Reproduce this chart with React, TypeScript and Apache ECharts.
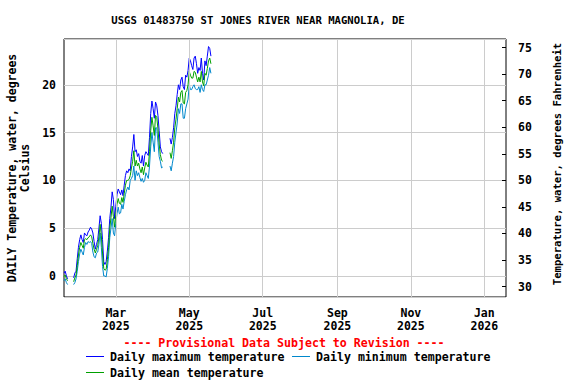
import React, { useEffect, useRef } from 'react';
import * as echarts from 'echarts';

// First day of the daily record (2025-01-17), one value per day
const startYear = 2025;
const startMonth = 0;
const startDay = 17;

const maxTemp: (number | null)[] = [
  0.3, 0.5, 0.0, -0.3,
  null, null, null, null,
  -0.2, 0.3, 0.5,
  1.8, 3.0, 3.8, 4.3,
  3.8, 3.5, 4.5,
  4.3, 4.2, 4.6, 4.8,
  5.1, 4.9, 4.5,
  3.6, 2.8, 3.3,
  3.8, 5.0, 6.3,
  5.5, 3.8,
  1.5, 1.2, 1.5, 2.6, 4.0,
  6.0, 7.2, 8.8,
  8.0, 6.0, 7.3,
  8.5, 9.1, 8.8,
  8.5, 9.0, 8.4,
  9.5, 10.5, 11.0,
  10.8, 11.2, 11.0,
  12.5, 13.5, 14.8, 13.0,
  13.2, 12.5, 12.8,
  12.0, 11.8, 12.6,
  11.5, 12.6, 13.0,
  12.8, 12.6, 14.5,
  17.0, 18.3, 17.5,
  16.5, 18.2, 17.8,
  16.8, 15.2, 13.5,
  13.0, 12.8,
  null, null, null, null, null,
  14.4, 13.8, 14.5,
  15.5, 17.0, 17.8,
  19.0, 20.0, 19.5,
  20.5, 20.8, 19.8,
  19.5, 21.0, 20.8,
  21.5, 22.8, 22.5,
  22.0, 21.6, 22.8,
  23.0, 22.2, 21.2,
  21.8, 21.5, 22.8,
  21.2, 20.5, 22.5,
  22.0, 23.0, 24.0,
  23.8, 23.0,
];

const minTemp: (number | null)[] = [
  -0.5, -0.3, -0.7, -0.9,
  null, null, null, null,
  -0.9, -0.7, -0.3,
  0.5, 1.5, 2.3, 2.8,
  2.5, 2.2, 3.0,
  3.5, 3.3, 3.6, 3.5,
  3.6, 3.4, 2.5,
  2.0, 1.9, 2.4,
  2.5, 3.3, 4.5,
  3.0, 1.0,
  0.0, 0.0, -0.1, 0.8, 2.0,
  4.0, 5.0, 6.0,
  4.5, 4.2, 5.5,
  6.5, 7.2, 6.5,
  6.6, 7.5, 7.0,
  7.8, 8.5, 9.0,
  9.3, 9.0, 10.0,
  10.2, 10.5, 11.5, 10.0,
  11.0, 10.5, 10.8,
  10.3, 9.9, 10.2,
  9.8, 10.0, 10.8,
  10.5, 10.2, 11.5,
  13.5, 15.0, 14.0,
  13.0, 15.5, 15.5,
  14.0, 12.5, 12.0,
  11.3, 11.4,
  null, null, null, null, null,
  11.5, 11.0, 11.8,
  12.5, 14.0, 15.0,
  16.0, 17.5, 17.0,
  18.0, 18.0, 16.5,
  16.5, 17.5, 18.0,
  18.5, 20.0, 19.5,
  19.5, 19.8, 20.0,
  19.6, 19.5, 19.5,
  19.8, 19.2, 20.0,
  19.5, 19.3, 20.0,
  20.0, 20.5, 21.0,
  21.8, 21.2,
];

const meanTemp: (number | null)[] = [
  -0.1, 0.1, -0.3, -0.5,
  null, null, null, null,
  -0.6, -0.2, 0.1,
  1.1, 2.2, 3.0, 3.5,
  3.2, 2.9, 3.8,
  3.9, 3.8, 4.0, 4.1,
  4.3, 4.1, 3.4,
  2.8, 2.4, 2.8,
  3.2, 4.1, 5.4,
  4.2, 2.4,
  0.8, 0.6, 0.7, 1.7, 3.0,
  5.0, 6.1, 7.3,
  6.2, 5.1, 6.4,
  7.5, 8.1, 7.6,
  7.5, 8.2, 7.7,
  8.6, 9.5, 10.0,
  10.0, 10.1, 10.5,
  11.3, 12.0, 13.1, 11.5,
  12.1, 11.5, 11.8,
  11.2, 10.8, 11.4,
  10.6, 11.3, 11.9,
  11.6, 11.4, 13.0,
  15.2, 16.6, 15.7,
  14.7, 16.8, 16.6,
  15.4, 13.8, 12.7,
  12.1, 12.0,
  null, null, null, null, null,
  12.9, 12.3, 13.1,
  14.0, 15.5, 16.4,
  17.5, 18.7, 18.2,
  19.2, 19.4, 18.1,
  18.0, 19.2, 19.4,
  20.0, 21.4, 21.0,
  20.7, 20.7, 21.4,
  21.3, 20.8, 20.3,
  20.8, 20.3, 21.4,
  20.3, 19.9, 21.2,
  21.0, 21.7, 22.5,
  22.8, 22.2,
];

// x-axis tick months: [year, monthIndex]
const tickMonths: [number, number][] = [
  [2025, 2], [2025, 4], [2025, 6], [2025, 8], [2025, 10], [2026, 0],
];
const monthNames = ['Jan', 'Feb', 'Mar', 'Apr', 'May', 'Jun', 'Jul', 'Aug', 'Sep', 'Oct', 'Nov', 'Dec'];

const celsiusMin = -2.2;
const celsiusMax = 24.79;

const FONT = '"DejaVu Sans Mono", "Liberation Mono", monospace';

const App: React.FC = () => {
  const ref = useRef<HTMLDivElement>(null);

  useEffect(() => {
    if (!ref.current) return;
    const chart = echarts.init(ref.current, undefined, { renderer: 'svg' });

    const dayTs = (i: number) => new Date(startYear, startMonth, startDay + i).getTime();
    const toPairs = (arr: (number | null)[]) => arr.map((v, i) => [dayTs(i), v]);
    const ticks = tickMonths.map(([y, m]) => new Date(y, m, 1).getTime());

    const fLabel = (v: number) => {
      const r = Math.round(v);
      return Math.abs(v - r) < 1e-6 && r % 5 === 0 ? String(r) : '';
    };

    const option: any = {
      animation: false,
      grid: {
        left: 64, right: 70, top: 39, bottom: 87,
        show: true, borderColor: '#000', borderWidth: 1, backgroundColor: '#fff',
      },
      xAxis: {
        type: 'value',
        min: new Date(2025, 0, 17).getTime(),
        max: new Date(2026, 0, 19).getTime(),
        axisLine: { show: false },
        axisTick: { show: false, customValues: ticks },
        axisLabel: {
          customValues: ticks,
          margin: 9,
          fontFamily: FONT, fontWeight: 'bold', fontSize: 11.5, color: '#000', lineHeight: 13,
          formatter: (v: number) => {
            const d = new Date(v);
            return monthNames[d.getMonth()] + '\n' + d.getFullYear();
          },
        },
        splitLine: { show: false },
      },
      yAxis: [
        {
          type: 'value',
          min: celsiusMin, max: celsiusMax,
          minInterval: 5, maxInterval: 5,
          axisLine: { show: false },
          axisTick: { show: false },
          axisLabel: {
            showMinLabel: false, showMaxLabel: false,
            margin: 8,
            fontFamily: FONT, fontWeight: 'bold', fontSize: 11.5, color: '#000',
            formatter: fLabel,
          },
          splitLine: { show: true, lineStyle: { color: '#cccccc', width: 1 } },
        },
        {
          type: 'value',
          position: 'right',
          min: celsiusMin * 1.8 + 32, max: celsiusMax * 1.8 + 32,
          minInterval: 5, maxInterval: 5,
          axisLine: { show: false },
          axisTick: { show: true, inside: true, length: 4, lineStyle: { color: '#000' } },
          axisLabel: {
            showMinLabel: false, showMaxLabel: false,
            margin: 12,
            fontFamily: FONT, fontWeight: 'bold', fontSize: 11.5, color: '#000',
            formatter: fLabel,
          },
          splitLine: { show: false },
        },
      ],
      series: [
        {
          name: 'gridlines', type: 'line', yAxisIndex: 0, data: [],
          markLine: {
            silent: true, symbol: 'none', label: { show: false },
            lineStyle: { color: '#cccccc', width: 1, type: 'solid' },
            data: ticks.map((t) => ({ xAxis: t })),
          },
        },
        {
          name: 'Daily maximum temperature', type: 'line', yAxisIndex: 0,
          data: toPairs(maxTemp), showSymbol: false, connectNulls: false,
          lineStyle: { color: '#0000ff', width: 1 }, itemStyle: { color: '#0000ff' },
        },
        {
          name: 'Daily minimum temperature', type: 'line', yAxisIndex: 0,
          data: toPairs(minTemp), showSymbol: false, connectNulls: false,
          lineStyle: { color: '#0088cc', width: 1 }, itemStyle: { color: '#0088cc' },
        },
        {
          name: 'Daily mean temperature', type: 'line', yAxisIndex: 0,
          data: toPairs(meanTemp), showSymbol: false, connectNulls: false,
          lineStyle: { color: '#00a000', width: 1 }, itemStyle: { color: '#00a000' },
        },
      ],
      graphic: [
        {
          type: 'text', x: 258, y: 20,
          style: {
            text: 'USGS 01483750 ST JONES RIVER NEAR MAGNOLIA, DE',
            fontFamily: FONT, fontWeight: 'bold', fontSize: 10.6, fill: '#000',
            align: 'center', verticalAlign: 'middle',
          },
        },
        {
          type: 'text', x: 18.5, y: 168, rotation: Math.PI / 2,
          style: {
            text: 'DAILY Temperature, water, degrees\nCelsius',
            fontFamily: FONT, fontWeight: 'bold', fontSize: 11.5, lineHeight: 13, fill: '#000',
            align: 'center', verticalAlign: 'middle',
          },
        },
        {
          type: 'text', x: 557, y: 164, rotation: Math.PI / 2,
          style: {
            text: 'Temperature, water, degrees Fahrenheit',
            fontFamily: FONT, fontWeight: 'bold', fontSize: 10.6, fill: '#000',
            align: 'center', verticalAlign: 'middle',
          },
        },
        {
          type: 'text', x: 284, y: 343,
          style: {
            text: '---- Provisional Data Subject to Revision ----',
            fontFamily: FONT, fontWeight: 'bold', fontSize: 11.6, fill: '#ff0000',
            align: 'center', verticalAlign: 'middle',
          },
        },
        { type: 'line', shape: { x1: 86, y1: 356.5, x2: 104, y2: 356.5 }, style: { stroke: '#0000ff', lineWidth: 1 } },
        {
          type: 'text', x: 110, y: 357,
          style: { text: 'Daily maximum temperature', fontFamily: FONT, fontWeight: 'bold', fontSize: 11.6, fill: '#000', align: 'left', verticalAlign: 'middle' },
        },
        { type: 'line', shape: { x1: 292, y1: 356.5, x2: 310, y2: 356.5 }, style: { stroke: '#0088cc', lineWidth: 1 } },
        {
          type: 'text', x: 316, y: 357,
          style: { text: 'Daily minimum temperature', fontFamily: FONT, fontWeight: 'bold', fontSize: 11.6, fill: '#000', align: 'left', verticalAlign: 'middle' },
        },
        { type: 'line', shape: { x1: 86, y1: 372.5, x2: 104, y2: 372.5 }, style: { stroke: '#00a000', lineWidth: 1 } },
        {
          type: 'text', x: 110, y: 373,
          style: { text: 'Daily mean temperature', fontFamily: FONT, fontWeight: 'bold', fontSize: 11.6, fill: '#000', align: 'left', verticalAlign: 'middle' },
        },
      ],
    };

    chart.setOption(option);
    return () => chart.dispose();
  }, []);

  return (
    <div
      ref={ref}
      style={{ position: 'absolute', left: 0, top: 0, width: 576, height: 384, background: '#fff' }}
    />
  );
};

export default App;
